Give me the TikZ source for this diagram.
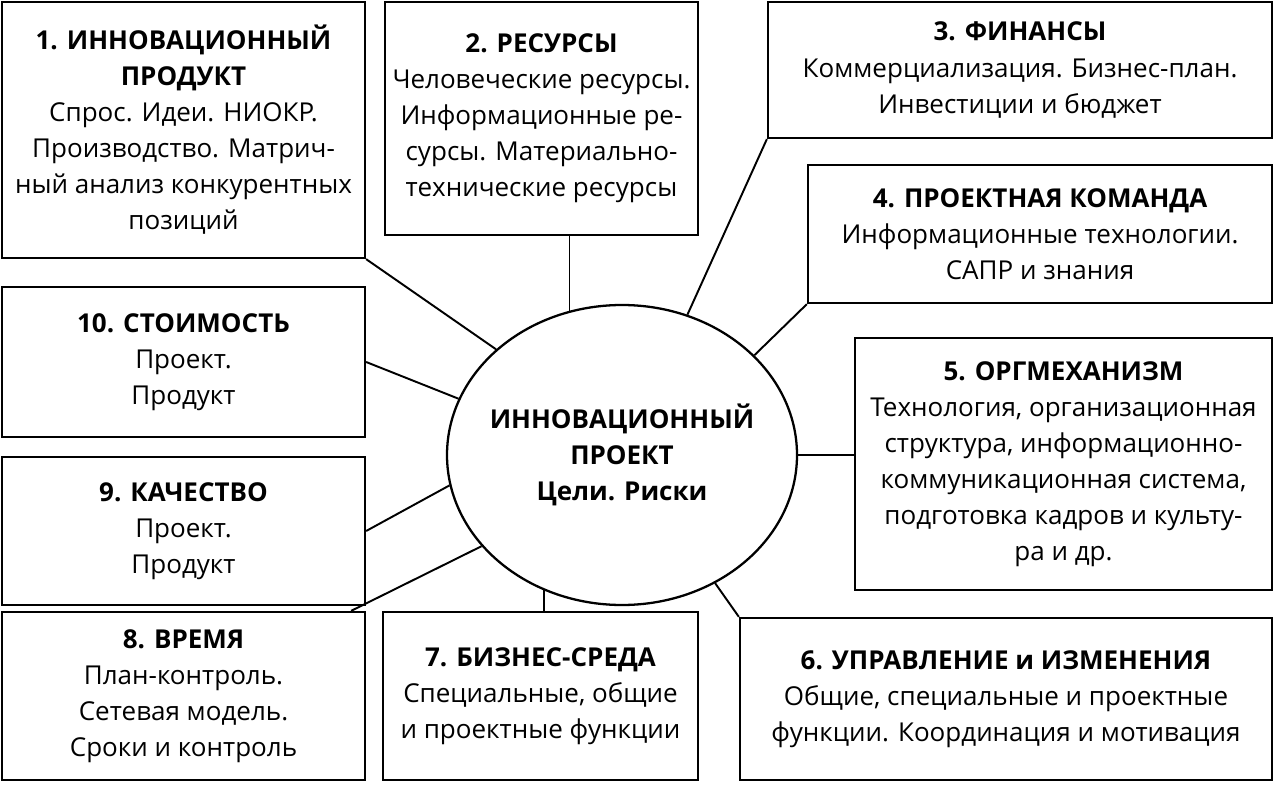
\documentclass[tikz,border=0pt]{standalone}
\usepackage{fontspec}
\setmainfont{Open Sans}
\usetikzlibrary{positioning,shapes.geometric,calc}
\tikzset{
    % blocks around the project
    blockbox/.style={draw, rectangle, line width=1.3pt, align=center,
                     inner sep=2pt, font=\fontsize{14.8}{20.5}\selectfont},
    corenode/.style={draw, ellipse, line width=1.3pt, align=center,
                     inner sep=-6pt, minimum width=7cm, minimum height=6cm,
                     font=\fontsize{14.8}{20.5}\selectfont\bfseries},
    link/.style={line width=1.1pt}
}
\begin{document}
\begin{tikzpicture}
    \useasboundingbox (0,0) rectangle (25.52,-15.74);

    % Centre
    \node[corenode] (core) at (12.44,-9.1) {ИННОВАЦИОННЫЙ\\ПРОЕКТ\\Цели. Риски};

    % Blocks
    \node[blockbox, minimum width=7.26cm, minimum height=5.12cm] (b1) at (3.67,-2.6)
        {\textbf{1. ИННОВАЦИОННЫЙ}\\\textbf{ПРОДУКТ}\\Спрос. Идеи. НИОКР.\\Производство. Матрич-\\ный анализ конкурентных\\позиций};
    \node[blockbox, minimum width=6.26cm, minimum height=4.66cm] (b2) at (10.83,-2.37)
        {\textbf{2. РЕСУРСЫ}\\Человеческие ресурсы.\\Информационные ре-\\сурсы. Материально-\\технические ресурсы};
    \node[blockbox, minimum width=10.08cm, minimum height=2.72cm] (b3) at (20.4,-1.4)
        {\textbf{3. ФИНАНСЫ}\\Коммерциализация. Бизнес-план.\\Инвестиции и бюджет};
    \node[blockbox, minimum width=9.28cm, minimum height=2.76cm] (b4) at (20.8,-4.68)
        {\textbf{4. ПРОЕКТНАЯ КОМАНДА}\\Информационные технологии.\\САПР и знания};
    \node[blockbox, minimum width=8.34cm, minimum height=5.04cm] (b5) at (21.27,-9.28)
        {\textbf{5. ОРГМЕХАНИЗМ}\\Технология, организационная\\структура, информационно-\\коммуникационная система,\\подготовка кадров и культу-\\ра и др.};
    \node[blockbox, minimum width=10.64cm, minimum height=3.24cm] (b6) at (20.12,-13.98)
        {\textbf{6. УПРАВЛЕНИЕ и ИЗМЕНЕНИЯ}\\Общие, специальные и проектные\\функции. Координация и мотивация};
    \node[blockbox, minimum width=6.3cm, minimum height=3.36cm] (b7) at (10.81,-13.92)
        {\textbf{7. БИЗНЕС-СРЕДА}\\Специальные, общие\\и проектные функции};
    \node[blockbox, minimum width=7.26cm, minimum height=3.36cm] (b8) at (3.67,-13.92)
        {\textbf{8. ВРЕМЯ}\\План-контроль.\\Сетевая модель.\\Сроки и контроль};
    \node[blockbox, minimum width=7.26cm, minimum height=2.96cm] (b9) at (3.67,-10.62)
        {\textbf{9. КАЧЕСТВО}\\Проект.\\Продукт};
    \node[blockbox, minimum width=7.26cm, minimum height=3cm] (b10) at (3.67,-7.24)
        {\textbf{10. СТОИМОСТЬ}\\Проект.\\Продукт};

    % Links
    \draw[link] (b1.south east) -- (core.140);
    \draw[link] (core.110) -- (core.110 |- b2.south);
    \draw[link] (b3.south west) -- (core.65);
    \draw[link] (b4.south west) -- (core.37);
    \draw[link] (core.0) -- (core.0 -| b5.west);
    \draw[link] (b6.north west) -- (core.306);
    \draw[link] (core.240) -- (core.240 |- b7.north);
    \draw[link] ($(b8.north east)+(-0.3,0)$) -- (core.213);
    \draw[link] (b9.east) -- (core.190);
    \draw[link] (b10.east) -- (core.161);
\end{tikzpicture}
\end{document}
